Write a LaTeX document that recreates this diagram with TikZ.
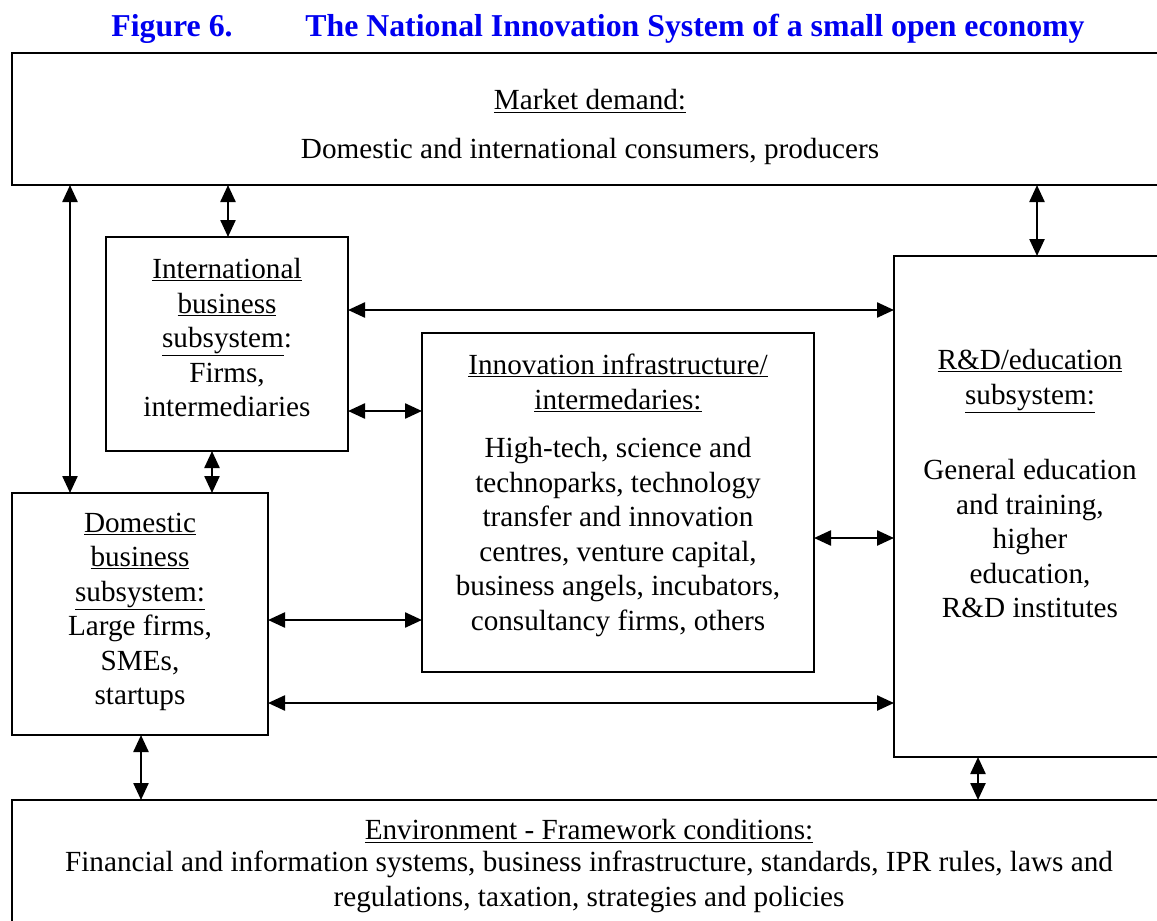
\documentclass[tikz,border=0pt]{standalone}
\usepackage{fontspec}
\setmainfont{Liberation Serif}
\usetikzlibrary{arrows.meta}
\definecolor{titleblue}{RGB}{0,0,240}
\begin{document}
\begin{tikzpicture}[x=1pt,y=-1pt,
  box/.style={draw, line width=2.2pt, inner sep=0pt, outer sep=0pt, rectangle},
  txt/.style={align=center, inner sep=0pt, font=\fontsize{29.2}{34.5}\selectfont},
  link/.style={line width=2.4pt, {Triangle[length=17pt,width=15pt]}-{Triangle[length=17pt,width=15pt]}},
  ttl/.style={inner sep=0pt, text=titleblue, font=\fontsize{31.8}{38}\selectfont\bfseries}]
\clip (0,0) rectangle (1157,921);
\fill[white] (0,0) rectangle (1157,921);

% heading
\node[ttl] (fig) at (172,29) {Figure 6.};
\node[ttl] (head) at (695,29) {The National Innovation System of a small open economy};

% boxes
\node[box, minimum width=1153pt, minimum height=132pt] (mkt) at (588.5,119) {};
\node[box, minimum width=242pt, minimum height=214pt] (int) at (227,344) {};
\node[box, minimum width=256pt, minimum height=242pt] (dom) at (140,614) {};
\node[box, minimum width=392pt, minimum height=339pt] (inn) at (618,502.5) {};
\node[box, minimum width=271pt, minimum height=501pt] (rd) at (1029.5,506.5) {};
\node[box, minimum width=1153pt, minimum height=140pt] (env) at (588.5,870) {};

% box texts
\node[txt] (mktA) at (590,101) {\underline{Market demand:}};
\node[txt] (mktB) at (590,151) {Domestic and international consumers, producers};

\node[txt] (intT) at (227,338) {\underline{International}\\ \underline{business}\\ \underline{subsystem}:\\ Firms,\\ intermediaries};

\node[txt] (domT) at (140,612) {\underline{Domestic}\\ \underline{business}\\ \underline{subsystem:}\\ Large firms,\\ SMEs,\\ startups};

\node[txt] (innA) at (618,383) {\underline{Innovation infrastructure/}\\ \underline{intermedaries:}};
\node[txt] (innB) at (618,537) {High-tech, science and\\ technoparks, technology\\ transfer and innovation\\ centres, venture capital,\\ business angels, incubators,\\ consultancy firms, others};

\node[txt] (rdA) at (1030,381) {\underline{R\&D/education}\\ \underline{subsystem:}};
\node[txt] (rdB) at (1030,539) {General education\\ and training,\\ higher\\ education,\\ R\&D institutes};

\node[txt] (envA) at (589,831) {\underline{Environment - Framework conditions:}};
\node[txt] (envB) at (589,882) {Financial and information systems, business infrastructure, standards, IPR rules, laws and\\ regulations, taxation, strategies and policies};

% connector positions
\coordinate (xa) at (70,0);
\coordinate (xb) at (228,0);
\coordinate (xc) at (1037,0);
\coordinate (xd) at (212,0);
\coordinate (xe) at (141,0);
\coordinate (xf) at (978,0);
\coordinate (ya) at (0,310);
\coordinate (yb) at (0,411);
\coordinate (yc) at (0,620);
\coordinate (yd) at (0,538);
\coordinate (ye) at (0,703);

% connectors
\draw[link] (mkt.south -| xa) -- (dom.north -| xa);
\draw[link] (mkt.south -| xb) -- (int.north -| xb);
\draw[link] (mkt.south -| xc) -- (rd.north -| xc);
\draw[link] (int.south -| xd) -- (dom.north -| xd);
\draw[link] (int.east |- ya) -- (rd.west |- ya);
\draw[link] (int.east |- yb) -- (inn.west |- yb);
\draw[link] (dom.east |- yc) -- (inn.west |- yc);
\draw[link] (inn.east |- yd) -- (rd.west |- yd);
\draw[link] (dom.east |- ye) -- (rd.west |- ye);
\draw[link] (dom.south -| xe) -- (env.north -| xe);
\draw[link] (rd.south -| xf) -- (env.north -| xf);
\end{tikzpicture}
\end{document}
